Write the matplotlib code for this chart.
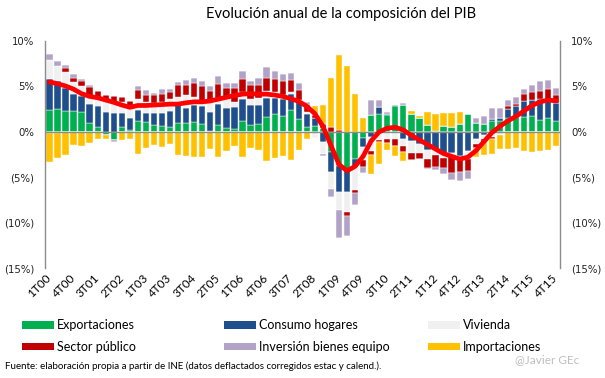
import matplotlib.pyplot as plt
import numpy as np
from matplotlib.patches import Patch

# quarterly labels 1T00 .. 4T15
quarters = [f"{q}T{y:02d}" for y in range(0, 16) for q in range(1, 5)]

# contributions to yoy GDP growth (pp)
exportaciones = [2.4, 2.55, 2.3, 2.3, 2.2, 1.0, 0.55, -0.35, -0.95, 0.5, 0.2, 1.2, 1.1, 0.75, 0.65, 0.5,
                 1.0, 0.95, 1.1, 0.85, 0.1, 0.75, 0.45, 0.3, 1.2, 0.75, 0.85, 1.65, 1.95, 1.75, 2.45, 1.45,
                 0.55, 0.65, 0.4, -2.25, -3.75, -4.1, -3.0, -0.7, 1.9, 2.0, 1.85, 2.85, 2.95, 1.95, 1.55, 0.75,
                 0.1, 0.65, 0.5, 0.85, 1.95, 1.0, 0.85, 1.2, 1.2, 1.55, 1.65, 1.65, 1.75, 1.3, 1.55, 1.2]
consumo = [3.4, 3.0, 2.55, 1.9, 1.7, 2.1, 2.3, 2.2, 2.1, 1.6, 1.3, 1.2, 1.0, 1.35, 1.45, 1.8,
           2.3, 1.7, 1.8, 2.0, 2.1, 2.35, 2.2, 2.4, 2.45, 2.25, 2.1, 2.1, 1.8, 1.9, 1.75, 1.9,
           1.4, 0.9, -1.15, -2.2, -2.9, -2.55, -0.9, -1.0, -0.6, 0.75, 0.15, 0.15, -0.8, -1.0, -1.3, -2.0,
           -1.9, -2.3, -2.3, -2.65, -2.1, -0.75, -0.35, 0.2, 0.3, 1.0, 1.2, 1.7, 1.75, 2.3, 1.8, 2.0]
vivienda = [2.1, 1.65, 1.75, 1.3, 1.2, 0.85, 0.9, 1.3, 1.2, 1.2, 1.1, 1.2, 1.2, 1.1, 1.2, 1.3,
            0.55, 1.35, 0.9, 0.55, 1.15, 0.65, 1.0, 0.55, 0.75, 0.6, 0.75, 0.75, 0.6, 0.4, 0.2, 0.1,
            0.2, -0.7, -1.3, -1.85, -2.0, -2.2, -2.55, -1.45, -1.5, -0.9, -0.75, -0.8, -0.8, -1.3, -1.0, -1.0,
            -0.6, -0.6, -0.3, -0.35, -0.9, -0.6, -0.4, -0.55, -0.4, 0.0, 0.0, 0.0, 0.0, 0.0, 0.3, 0.0]
sector_publico = [-0.1, -0.1, 0.45, 0.45, 0.55, 1.0, 0.75, 0.5, 0.65, 0.55, 0.8, 1.0, 0.8, 0.9, 0.9, 0.8,
                  1.3, 1.2, 1.55, 1.65, 1.1, 1.55, 1.15, 1.55, 1.45, 1.55, 1.45, 1.45, 1.5, 1.55, 1.3, 1.2,
                  0.8, 0.35, 0.5, 0.55, 0.2, -0.45, -0.3, -0.75, -0.4, -0.2, -0.45, -0.75, -0.65, -0.75, -0.65, -1.0,
                  -1.4, -1.1, -1.9, -1.45, -1.3, -0.45, -0.35, -0.25, 0.0, 0.25, 0.25, 0.8, 0.9, 0.85, 1.1, 0.8]
inversion_equipo = [0.65, 0.6, 0.3, 0.45, 0.2, 0.2, 0.0, 0.05, -0.15, 0.0, 0.0, 0.45, 0.45, 0.2, 0.5, 0.3,
                    0.35, 0.55, 0.6, 0.55, 0.55, 0.8, 0.6, 0.6, 0.85, 0.5, 0.8, 1.15, 0.9, 0.75, 0.8, 0.75,
                    0.3, 0.0, -0.2, -0.85, -3.1, -2.2, -1.3, -0.65, 1.6, 0.75, 0.2, 0.0, 0.2, 0.0, 0.0, -0.15,
                    -0.35, -0.65, -0.85, -1.0, -0.85, 0.55, 0.9, 1.25, 1.1, 0.75, 0.75, 0.55, 0.75, 1.1, 1.0, 0.85]
importaciones = [-3.2, -2.75, -2.5, -1.5, -1.6, -1.25, -0.8, -0.45, -0.05, -0.9, -0.8, -2.4, -1.8, -1.4, -1.7, -1.35,
                 -2.5, -2.7, -2.75, -2.8, -1.9, -2.75, -2.15, -1.55, -2.8, -1.8, -1.95, -3.2, -2.9, -2.7, -3.05, -2.0,
                 -0.8, 0.95, 2.1, 5.35, 8.3, 7.25, 4.2, 1.55, -2.2, -2.45, -0.8, -1.1, -0.95, 0.35, 0.2, 1.45,
                 1.85, 1.45, 1.6, 1.35, 0.05, -1.0, -1.45, -1.6, -1.5, -1.9, -1.8, -2.1, -2.2, -2.1, -2.0, -1.55]
# GDP yoy growth (%)
pib = [5.5, 5.3, 5.05, 4.7, 4.2, 3.9, 3.75, 3.5, 3.25, 2.95, 2.7, 2.9, 2.9, 2.95, 3.0, 3.05,
       3.05, 3.2, 3.3, 3.3, 3.4, 3.6, 3.8, 4.0, 4.15, 4.2, 4.15, 4.15, 4.05, 3.9, 3.65, 3.35,
       2.8, 2.0, 0.6, -1.5, -3.6, -4.3, -3.8, -2.7, -1.0, 0.0, 0.4, 0.5, 0.2, -0.4, -0.9, -1.4,
       -1.9, -2.4, -2.7, -3.0, -2.8, -2.1, -1.1, -0.1, 0.6, 1.2, 1.7, 2.3, 2.9, 3.3, 3.5, 3.4]

series = [
    ("Exportaciones", exportaciones, "#00B050"),
    ("Consumo hogares", consumo, "#1F4E8C"),
    ("Vivienda", vivienda, "#F0F0F0"),
    ("Sector público", sector_publico, "#C00000"),
    ("Inversión bienes equipo", inversion_equipo, "#B3A2C7"),
    ("Importaciones", importaciones, "#FFC000"),
]

plt.rcParams['font.family'] = ['Lato', 'DejaVu Sans']

fig = plt.figure(figsize=(6.05, 3.78), dpi=100)
ax = fig.add_axes([0.075, 0.291, 0.851, 0.6005])

x = np.arange(len(quarters))
pos_bottom = np.zeros(len(x))
neg_bottom = np.zeros(len(x))
for name, vals, col in series:
    v = np.array(vals)
    pos = np.where(v > 0, v, 0)
    neg = np.where(v < 0, v, 0)
    ax.bar(x, pos, 0.78, bottom=pos_bottom, color=col, edgecolor='white', linewidth=0.3, zorder=2)
    ax.bar(x, neg, 0.78, bottom=neg_bottom, color=col, edgecolor='white', linewidth=0.3, zorder=2)
    pos_bottom += pos
    neg_bottom += neg

ax.axhline(0, color='#8C8C8C', lw=1.0, zorder=3)
ax.plot(x, pib, color='#FF0000', lw=3.4, solid_joinstyle='round', solid_capstyle='round', zorder=4)

ax.set_xlim(-0.5, len(x) - 0.5)
ax.set_ylim(-15, 10)
yt = [10, 5, 0, -5, -10, -15]
ylab = ["10%", "5%", "0%", "(5%)", "(10%)", "(15%)"]
ax.set_yticks(yt)
ax.set_yticklabels(ylab, family='DejaVu Sans', fontsize=7.3, color='#222222')
ax.tick_params(axis='y', length=0, pad=8, labelright=True, right=False)

ax.set_xticks(x[::3])
ax.set_xticklabels(quarters[::3], rotation=45, ha='right', va='center',
                   rotation_mode='anchor', fontsize=8.5)
ax.tick_params(axis='x', length=0, pad=6)

for s in ['top', 'bottom']:
    ax.spines[s].set_visible(False)
for s in ['left', 'right']:
    ax.spines[s].set_color('#8C8C8C')
    ax.spines[s].set_linewidth(1.0)

fig.text(0.563, 0.962, "Evolución anual de la composición del PIB", ha='center', va='center', fontsize=10.5)

# legend, three columns
cols = [(0.036, [0, 3]), (0.37, [1, 4]), (0.707, [2, 5])]
for xpos, idx in cols:
    handles = [Patch(facecolor=series[i][2], edgecolor='none') for i in idx]
    labels = [series[i][0] for i in idx]
    fig.legend(handles, labels, loc='upper left', bbox_to_anchor=(xpos, 0.155), frameon=False,
               fontsize=9, handlelength=2.6, handleheight=0.55, handletextpad=0.2,
               labelspacing=0.75, borderaxespad=0, borderpad=0)

fig.text(0.008, 0.03, "Fuente: elaboración propia a partir de INE (datos deflactados corregidos estac y calend.).",
         fontsize=7, va='center', ha='left')
fig.text(0.958, 0.05, "@Javier GEc", fontsize=8.5, color='#BFBFBF', ha='right', va='center')

fig.savefig("out.png", dpi=100)
